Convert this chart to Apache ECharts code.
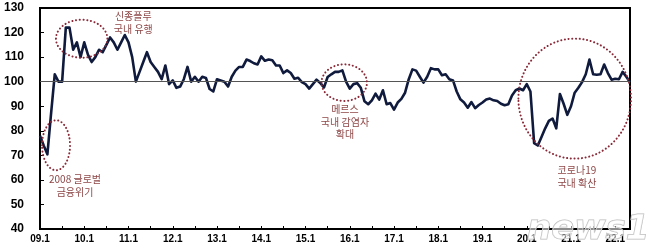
<!DOCTYPE html>
<html>
<head>
<meta charset="utf-8">
<script src="https://cdn.jsdelivr.net/npm/echarts@6/dist/echarts.min.js"></script>
<style>html,body{margin:0;padding:0;background:#fff;}#c{width:658px;height:251px;}</style>
</head>
<body>
<div id="c"></div>
<script>
// Monthly categories 2009.1 - 2022.5
const startYear = 2009, endYear = 2022, endMonth = 5;
const categories = [];
for (let y = startYear; y <= endYear; y++) {
  for (let m = 1; m <= 12; m++) {
    if (y === endYear && m > endMonth) break;
    categories.push(String(y % 100).padStart(2, '0') + '.' + m);
  }
}
// Index values
const indexValues = [
  78,74,70.4,87,103,100,100,122,122,113,116,110,
  116,111,108,110,113,112,115,118,116,113,116,119,
  116,110,100,104,108,112,108,106,104,101,106.6,99,
  100.5,97.5,98,101,106,100,102,100,102,101.5,97,96,
  101,100.5,100,98,102,104.5,106,106,109,108.4,107.5,107,
  110.3,108.5,109,108.7,106.6,106.6,103.5,104.6,103.5,101.2,101.6,99.8,
  99,97.2,99,100.8,99.5,97.6,101.9,103,104,104,104.6,100,
  97.2,99,99.4,97.5,92,90.8,92.4,95.1,92.7,96.5,90.8,91.3,
  88.6,91.5,93,95.5,101,105,104.5,102,99.6,102,105.5,105,
  105,102.6,103,101,100.5,96,92.8,91.5,89.4,91.7,89.2,90.5,
  91.5,92.7,93.1,92.4,92.1,91,90.4,90.8,94.4,96.5,97.2,96.5,
  99,96,75,74,77.5,81,84,85,81,95,91,86.5,
  90,95.5,97.5,99.8,103,109,103,102.8,103,107,103.5,100.8,
  101.2,101,104,102,99.8
];
const yTicks = { min: 40, max: 130, interval: 10 };
const baseline = 100;
// Annotations: [category index, value] anchors
const circleNotes = [
  { at: [4.35, 74.1], rx: 14, ry: 25 },
  { at: [11.3, 117.5], rx: 25.7, ry: 19 },
  { at: [82.5, 99.6], rx: 22.7, ry: 18.3 },
  { at: [145, 93.1], rx: 56.3, ry: 60 }
];
const textNotes = [
  { at: [9.5, 57.7], text: '2008 글로벌\n금융위기' },
  { at: [25.3, 124.1], text: '신종플루\n국내 유행' },
  { at: [82.7, 83.5], text: '메르스\n국내 감염자\n확대' },
  { at: [145.6, 61.2], text: '코로나19\n국내 확산' }
];

const chart = echarts.init(document.getElementById('c'), null, { renderer: 'canvas' });
const axisFont = 'Liberation Sans, Arial, sans-serif';
chart.setOption({
  animation: false,
  grid: { left: 40, right: 28, top: 8, bottom: 22, show: true, borderColor: '#000', borderWidth: 2, backgroundColor: 'transparent' },
  xAxis: {
    type: 'category', data: categories, boundaryGap: false,
    axisLine: { lineStyle: { color: '#000', width: 2 } },
    axisTick: { show: true, inside: true, interval: 5, length: 3, lineStyle: { color: '#000', width: 1 } },
    axisLabel: { interval: 11, fontSize: 10, fontWeight: 'bold', color: '#000', fontFamily: axisFont, margin: 5 },
    splitLine: { show: false }
  },
  yAxis: {
    type: 'value', min: yTicks.min, max: yTicks.max, interval: yTicks.interval,
    axisLine: { show: true, lineStyle: { color: '#000', width: 2 } },
    axisTick: { show: true, inside: true, length: 4, lineStyle: { color: '#000', width: 1 } },
    axisLabel: { fontSize: 12, fontWeight: 'bold', color: '#000', fontFamily: axisFont, margin: 16 },
    splitLine: { show: false }
  },
  series: [{
    type: 'line', data: indexValues, showSymbol: false, symbol: 'none',
    lineStyle: { color: '#0f1a3c', width: 2.6, join: 'round' },
    markLine: {
      silent: true, symbol: 'none', label: { show: false },
      lineStyle: { color: '#555', width: 1, type: 'solid' },
      data: [{ yAxis: baseline }]
    },
    z: 3
  }]
});

// place annotations from data coordinates
const p0 = chart.convertToPixel({ gridIndex: 0 }, [0, 100]);
const p1 = chart.convertToPixel({ gridIndex: 0 }, [12, 110]);
function toPx(a) {
  return [p0[0] + (a[0] / 12) * (p1[0] - p0[0]), p0[1] + ((a[1] - 100) / 10) * (p1[1] - p0[1])];
}
const graphics = [];
circleNotes.forEach(c => {
  const p = toPx(c.at);
  graphics.push({
    type: 'ellipse', shape: { cx: p[0], cy: p[1], rx: c.rx, ry: c.ry }, z: 10, silent: true,
    style: { fill: 'none', stroke: '#8a2a38', lineWidth: 2, lineDash: [0.1, 3.6], lineCap: 'round' }
  });
});
textNotes.forEach(t => {
  const p = toPx(t.at);
  graphics.push({
    type: 'text', x: p[0], y: p[1], z: 11, silent: true,
    style: { text: t.text, fill: '#8e4747', font: '10px "Noto Sans CJK KR", sans-serif', align: 'center', verticalAlign: 'middle', lineHeight: 12.5 }
  });
});
graphics.push({
  type: 'text', right: 8, bottom: 3, z: 12, silent: true,
  style: { text: 'news1', fill: 'rgba(255,255,255,0.55)', stroke: '#b8b8b8', lineWidth: 1, font: 'italic bold 34px "DejaVu Sans", sans-serif' }
});
chart.setOption({ graphic: graphics });
</script>
</body>
</html>
